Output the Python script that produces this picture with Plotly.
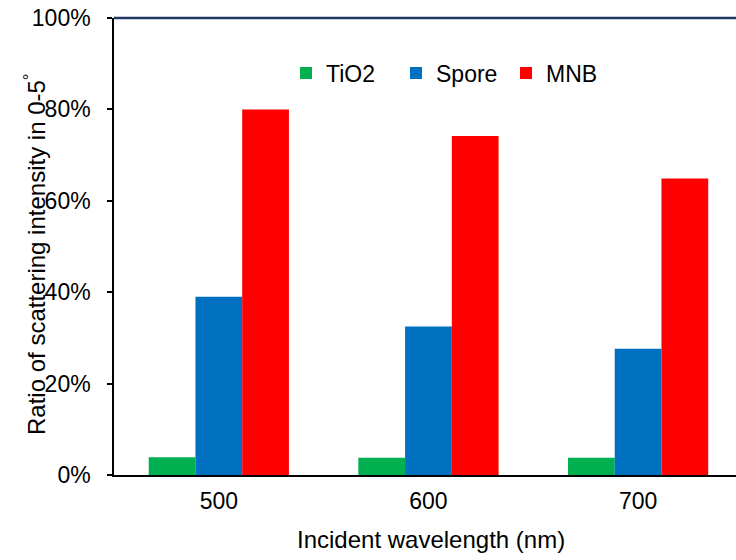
import plotly.graph_objects as go

categories = ["500", "600", "700"]
tio2 = [0.039, 0.038, 0.038]
spore = [0.390, 0.325, 0.276]
mnb = [0.800, 0.742, 0.649]

series_names = ["TiO2", "Spore", "MNB"]
series_colors = ["#00B050", "#0070C0", "#FF0000"]
y_ticks = [0, 0.2, 0.4, 0.6, 0.8, 1.0]

FONT = "Arial, 'Liberation Sans', sans-serif"

fig = go.Figure()
for name, vals, col in zip(series_names, [tio2, spore, mnb], series_colors):
    fig.add_trace(go.Bar(x=categories, y=vals, name=name,
                         marker=dict(color=col, line=dict(width=0))))

fig.update_layout(
    width=736, height=560,
    margin=dict(l=114, r=0, t=18, b=85, autoexpand=False),
    paper_bgcolor="white", plot_bgcolor="white",
    barmode="group", bargap=0.331, bargroupgap=0,
    font=dict(family=FONT, size=23, color="#000000"),
    showlegend=True,
    legend=dict(orientation="h", x=172 / 622, y=(475 - 73) / 457,
                xanchor="left", yanchor="middle",
                entrywidth=65, entrywidthmode="pixels",
                font=dict(size=23, family=FONT), bgcolor="rgba(0,0,0,0)",
                traceorder="normal"),
    xaxis=dict(type="category", range=[-0.5, 2.467], showline=True,
               linecolor="#000000", linewidth=2, ticks="", showgrid=False,
               zeroline=False, ticklabelstandoff=4, automargin=False,
               tickfont=dict(size=23, family=FONT)),
    yaxis=dict(range=[0, 1], tickvals=y_ticks, tickformat=".0%", showline=True,
               linecolor="#000000", linewidth=1.5, ticks="outside", ticklen=5,
               tickcolor="#000000", tickwidth=1.5, showgrid=False, zeroline=False,
               ticklabelstandoff=12, automargin=False, ticklabeloverflow="allow",
               tickfont=dict(size=23, family=FONT)),
    shapes=[dict(type="line", xref="paper", yref="paper", x0=0, x1=1, y0=1, y1=1,
                 line=dict(color="#1F3864", width=2.5))],
    annotations=[
        dict(text="Incident wavelength (nm)", xref="paper", yref="paper",
             x=(431 - 114) / 622, y=-(539 - 475) / 457, xanchor="center",
             yanchor="middle", showarrow=False, font=dict(size=24, family=FONT)),
        dict(text="Ratio of scattering intensity in 0-5<sup>°</sup>", xref="paper",
             yref="paper", x=-(114 - 35) / 622, y=(475 - 254) / 457, textangle=-90,
             xanchor="center", yanchor="middle", showarrow=False,
             font=dict(size=24, family=FONT)),
    ],
)

fig.write_html("out.html", config={"displayModeBar": False},
               post_script="document.body.style.margin='0';document.body.style.overflow='hidden';")
